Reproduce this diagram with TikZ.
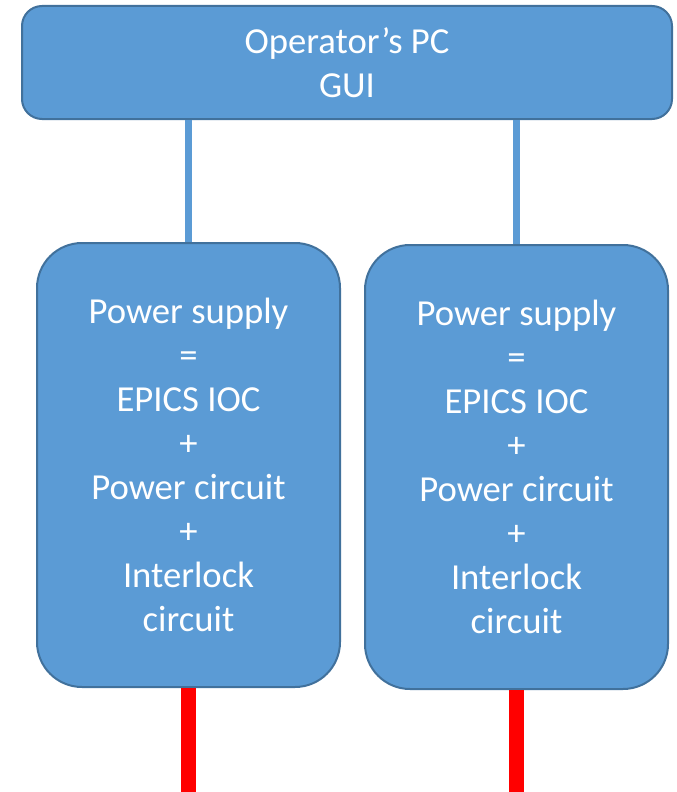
\documentclass[tikz,border=0pt]{standalone}
\usepackage{fontspec}
\setmainfont{Carlito}
\usetikzlibrary{positioning}
\definecolor{boxblue}{HTML}{5B9BD5}
\definecolor{boxedge}{HTML}{41719C}
\tikzstyle{pcbox} = [
    rectangle, rounded corners=15pt, minimum width=487.5pt, minimum height=84.75pt,
    inner sep=0pt, text centered, align=center, draw=boxedge, line width=1.5pt,
    fill=boxblue, text=white
]
\tikzstyle{psbox} = [
    rectangle, rounded corners=33.75pt, minimum width=227.25pt, minimum height=333pt,
    inner sep=0pt, text centered, align=center, draw=boxedge, line width=1.5pt,
    fill=boxblue, text=white
]
\tikzstyle{link} = [boxblue, line width=5.25pt]
\tikzstyle{cable} = [red, line width=11.25pt]

\begin{document}
\begin{tikzpicture}[
    x=0.75pt, y=-0.75pt,
    font=\fontsize{27.5}{33}\selectfont
]
\useasboundingbox (0,0) rectangle (677,792);

% PC oben
\node (pc)  [pcbox] at (347,62.5) {Operator’s PC \\ GUI};

% Netzteile
\node (ps1) [psbox] at (188.5,465) {Power supply \\ = \\ EPICS IOC \\ + \\ Power circuit \\ + \\ Interlock \\ circuit};
\node (ps2) [psbox, right=17.25pt of ps1, yshift=-1.5pt] {Power supply \\ = \\ EPICS IOC \\ + \\ Power circuit \\ + \\ Interlock \\ circuit};

% Kabel nach unten
\coordinate (out1) at (ps1.south |- 0,792);
\coordinate (out2) at (ps2.south |- 0,792);

% Verbindungen
\draw [link] (ps1.north) -- (ps1.north |- pc.south);
\draw [link] (ps2.north) -- (ps2.north |- pc.south);
\draw [cable] (ps1.south) -- (out1);
\draw [cable] (ps2.south) -- (out2);

\end{tikzpicture}
\end{document}
